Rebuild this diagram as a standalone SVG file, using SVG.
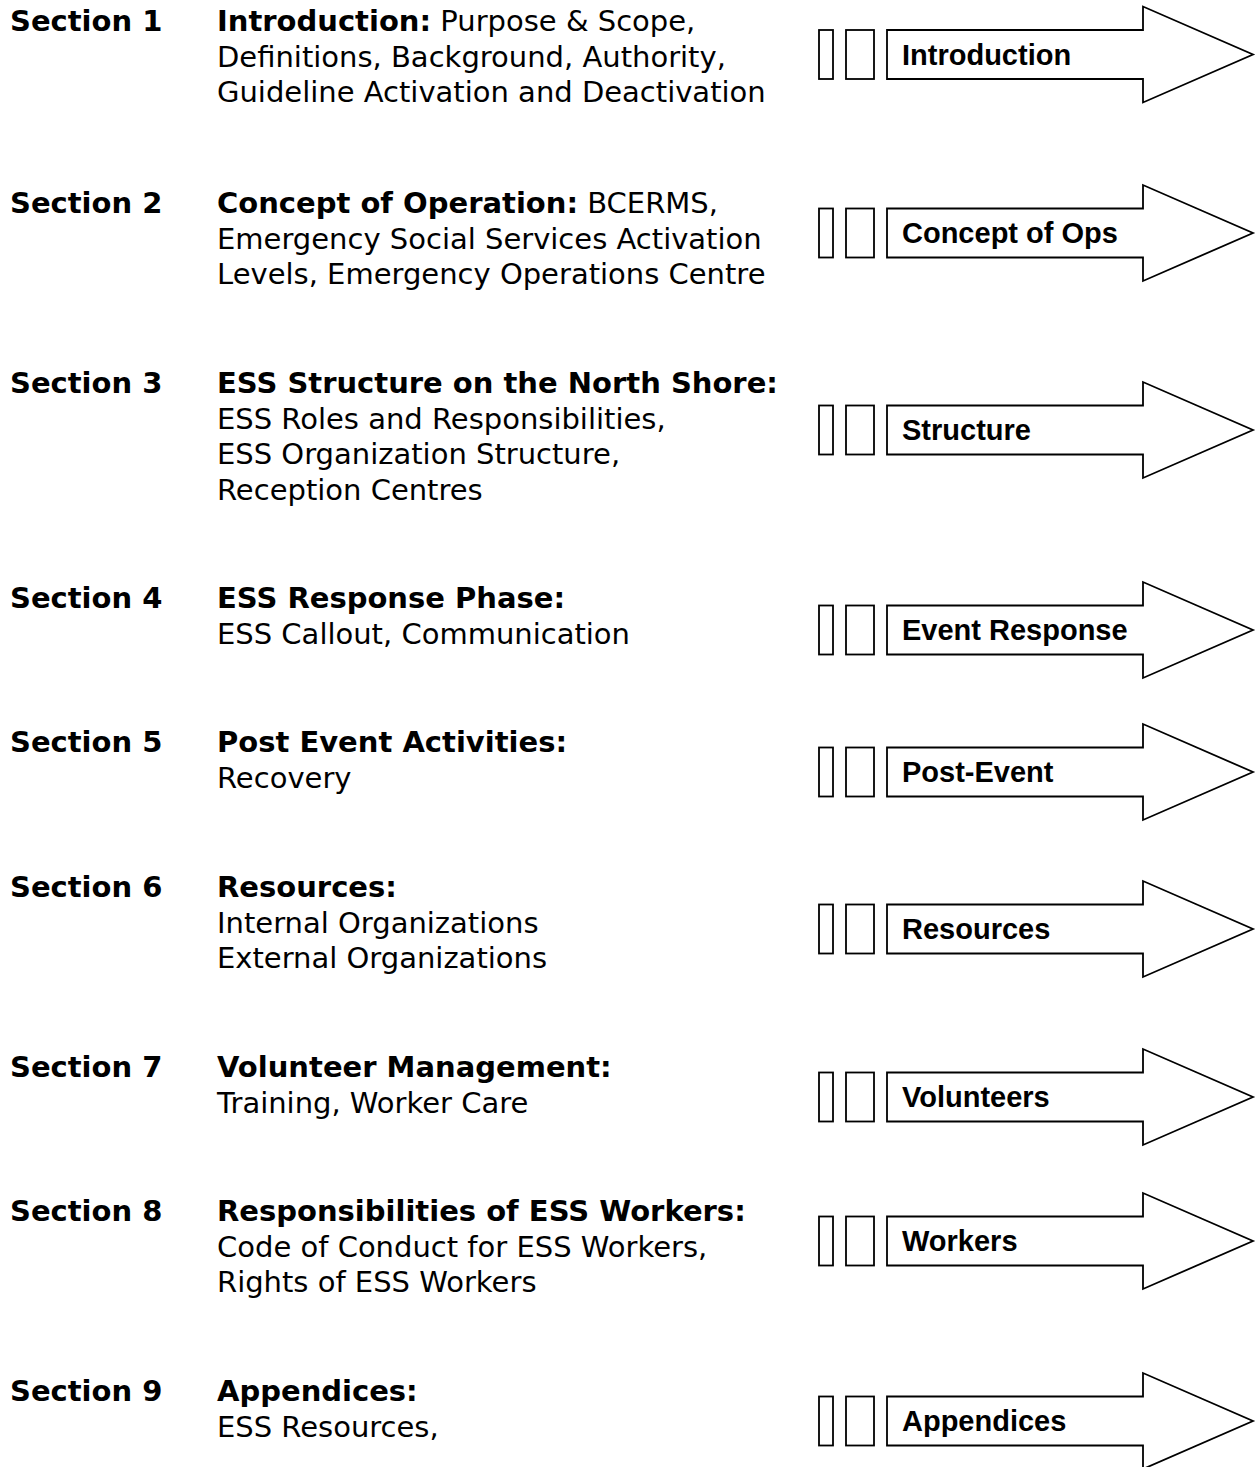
<svg xmlns="http://www.w3.org/2000/svg" xmlns:xlink="http://www.w3.org/1999/xlink" width="1256" height="1467" viewBox="0 0 1256 1467">
  <style>
    .sec { font-family: "DejaVu Sans", Verdana, sans-serif; font-size: 29px; fill: #000; }
    .b { font-weight: bold; }
    .lbl { font-family: "Liberation Sans", Arial, sans-serif; font-size: 29px; font-weight: bold; fill: #000; }
    .shp { fill: #fff; stroke: #000; stroke-width: 1.8; stroke-linejoin: miter; }
  </style>
  <defs>
    <!-- tab marks plus block arrow, centred on y = 0 -->
    <g id="tab-arrow">
      <rect class="shp" x="819" y="-24.5" width="14" height="49"/>
      <rect class="shp" x="846" y="-24.5" width="28" height="49"/>
      <polygon class="shp" points="887,-24.5 1143,-24.5 1143,-48 1253,0 1143,48 1143,24.5 887,24.5"/>
    </g>
  </defs>
  <rect width="1256" height="1467" fill="#fff"/>

  <!-- section outline -->
  <g id="section-1">
    <text class="sec b" x="10" y="31">Section 1</text>
    <text class="sec" x="217" y="31"><tspan class="b">Introduction:</tspan> Purpose &amp; Scope,</text>
    <text class="sec" x="217" y="66.5">Definitions, Background, Authority,</text>
    <text class="sec" x="217" y="102">Guideline Activation and Deactivation</text>
  </g>
  <g id="section-2">
    <text class="sec b" x="10" y="213">Section 2</text>
    <text class="sec" x="217" y="213"><tspan class="b">Concept of Operation:</tspan> BCERMS,</text>
    <text class="sec" x="217" y="248.5">Emergency Social Services Activation</text>
    <text class="sec" x="217" y="284">Levels, Emergency Operations Centre</text>
  </g>
  <g id="section-3">
    <text class="sec b" x="10" y="393">Section 3</text>
    <text class="sec b" x="217" y="393">ESS Structure on the North Shore:</text>
    <text class="sec" x="217" y="428.5">ESS Roles and Responsibilities,</text>
    <text class="sec" x="217" y="464">ESS Organization Structure,</text>
    <text class="sec" x="217" y="499.5">Reception Centres</text>
  </g>
  <g id="section-4">
    <text class="sec b" x="10" y="608">Section 4</text>
    <text class="sec b" x="217" y="608">ESS Response Phase:</text>
    <text class="sec" x="217" y="643.5">ESS Callout, Communication</text>
  </g>
  <g id="section-5">
    <text class="sec b" x="10" y="752">Section 5</text>
    <text class="sec b" x="217" y="752">Post Event Activities:</text>
    <text class="sec" x="217" y="787.5">Recovery</text>
  </g>
  <g id="section-6">
    <text class="sec b" x="10" y="897">Section 6</text>
    <text class="sec b" x="217" y="897">Resources:</text>
    <text class="sec" x="217" y="932.5">Internal Organizations</text>
    <text class="sec" x="217" y="968">External Organizations</text>
  </g>
  <g id="section-7">
    <text class="sec b" x="10" y="1077">Section 7</text>
    <text class="sec b" x="217" y="1077">Volunteer Management:</text>
    <text class="sec" x="217" y="1112.5">Training, Worker Care</text>
  </g>
  <g id="section-8">
    <text class="sec b" x="10" y="1221">Section 8</text>
    <text class="sec b" x="217" y="1221">Responsibilities of ESS Workers:</text>
    <text class="sec" x="217" y="1256.5">Code of Conduct for ESS Workers,</text>
    <text class="sec" x="217" y="1292">Rights of ESS Workers</text>
  </g>
  <g id="section-9">
    <text class="sec b" x="10" y="1401">Section 9</text>
    <text class="sec b" x="217" y="1401">Appendices:</text>
    <text class="sec" x="217" y="1436.5">ESS Resources,</text>
  </g>

  <!-- tab arrows -->
  <g id="arrow-introduction">
    <use xlink:href="#tab-arrow" href="#tab-arrow" transform="translate(0,54.5)"/>
    <text class="lbl" x="902" y="64.5">Introduction</text>
  </g>
  <g id="arrow-concept">
    <use xlink:href="#tab-arrow" href="#tab-arrow" transform="translate(0,233)"/>
    <text class="lbl" x="902" y="243">Concept of Ops</text>
  </g>
  <g id="arrow-structure">
    <use xlink:href="#tab-arrow" href="#tab-arrow" transform="translate(0,430)"/>
    <text class="lbl" x="902" y="440">Structure</text>
  </g>
  <g id="arrow-event-response">
    <use xlink:href="#tab-arrow" href="#tab-arrow" transform="translate(0,630)"/>
    <text class="lbl" x="902" y="639.5">Event Response</text>
  </g>
  <g id="arrow-post-event">
    <use xlink:href="#tab-arrow" href="#tab-arrow" transform="translate(0,772)"/>
    <text class="lbl" x="902" y="782">Post-Event</text>
  </g>
  <g id="arrow-resources">
    <use xlink:href="#tab-arrow" href="#tab-arrow" transform="translate(0,929)"/>
    <text class="lbl" x="902" y="939">Resources</text>
  </g>
  <g id="arrow-volunteers">
    <use xlink:href="#tab-arrow" href="#tab-arrow" transform="translate(0,1097)"/>
    <text class="lbl" x="902" y="1107">Volunteers</text>
  </g>
  <g id="arrow-workers">
    <use xlink:href="#tab-arrow" href="#tab-arrow" transform="translate(0,1241)"/>
    <text class="lbl" x="902" y="1251">Workers</text>
  </g>
  <g id="arrow-appendices">
    <use xlink:href="#tab-arrow" href="#tab-arrow" transform="translate(0,1421)"/>
    <text class="lbl" x="902" y="1431">Appendices</text>
  </g>
</svg>
